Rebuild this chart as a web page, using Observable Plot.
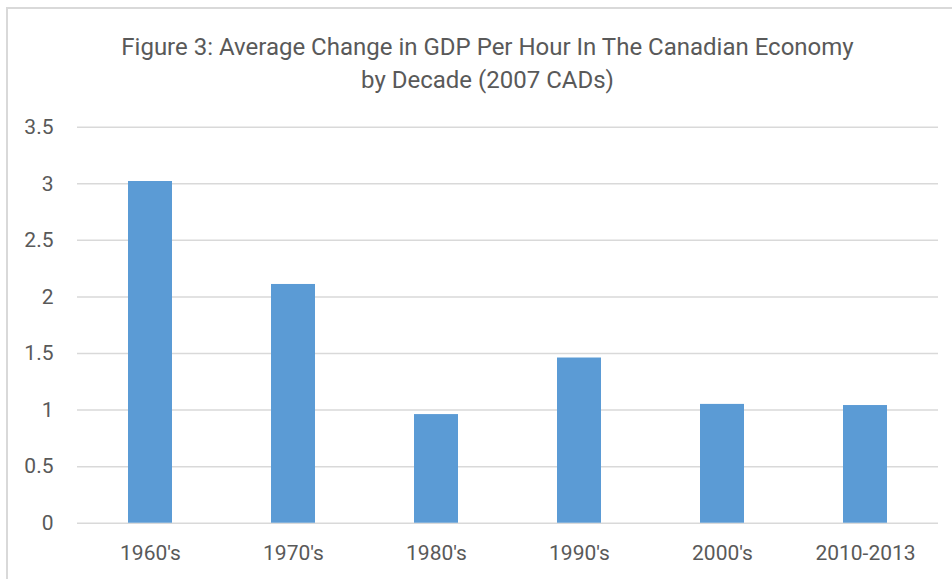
<!DOCTYPE html>
<html>
<head>
<meta charset="utf-8">
<script src="https://cdn.jsdelivr.net/npm/d3@7"></script>
<script src="https://cdn.jsdelivr.net/npm/@observablehq/plot@0.6"></script>
<style>
  html, body { margin: 0; padding: 0; background: #fff; overflow: hidden; }
  #wrap { position: relative; width: 952px; height: 579px; overflow: hidden; font-family: Roboto, sans-serif; }
  #frame { position: absolute; left: 6px; top: 7px; width: 962px; height: 600px; border-left: 2px solid #d9d9d9; border-top: 2px solid #d9d9d9; box-sizing: border-box; }
  .title { position: absolute; left: 7px; width: 961px; text-align: center; color: #595959; font-size: 24px; line-height: 30px; white-space: nowrap; }
  #chart { position: absolute; left: 0; top: 110px; }
</style>
</head>
<body>
<div id="wrap">
  <div id="frame"></div>
  <div class="title" style="top:32px">Figure 3: Average Change in GDP Per Hour In The Canadian Economy</div>
  <div class="title" style="top:65px">by Decade (2007 CADs)</div>
  <div id="chart"></div>
</div>
<script>
const decades = ["1960's", "1970's", "1980's", "1990's", "2000's", "2010-2013"];
const gdpChange = [3.02, 2.11, 0.96, 1.46, 1.05, 1.04];
const yTicks = [0, 0.5, 1, 1.5, 2, 2.5, 3, 3.5];

const data = decades.map((d, i) => ({decade: d, value: gdpChange[i]}));

const plot = Plot.plot({
  width: 952,
  height: 469,
  marginLeft: 77,
  marginRight: 14,
  marginTop: 16.7,
  marginBottom: 56.3,
  style: {fontFamily: "Roboto, sans-serif", fontSize: "21px", color: "#595959", background: "transparent"},
  x: {domain: decades, paddingInner: 0.69, paddingOuter: 0.345, label: null},
  y: {domain: [0, 3.5], label: null},
  marks: [
    Plot.ruleY(yTicks, {stroke: "#d9d9d9", strokeWidth: 1.5}),
    Plot.barY(data, {x: "decade", y: "value", fill: "#5b9bd5"}),
    Plot.axisY({ticks: yTicks, tickSize: 0, tickPadding: 24, label: null, fill: "#595959", tickFormat: d => String(d)}),
    Plot.axisX({tickSize: 0, tickPadding: 22, label: null, fill: "#595959"})
  ]
});
document.getElementById("chart").appendChild(plot);
</script>
</body>
</html>
